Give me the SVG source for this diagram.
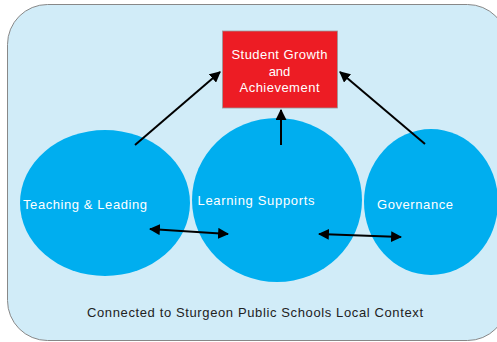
<svg xmlns="http://www.w3.org/2000/svg" width="497" height="342" viewBox="0 0 497 342">
<style>
.bub{fill:#00AEEF}
.lbl{font-family:"Liberation Sans",Arial,sans-serif;font-size:13px;fill:#fff;text-anchor:middle}
.ln{stroke:#000;stroke-width:2;fill:none}
</style>
<defs>
<marker id="ah" viewBox="0 0 10 10" refX="9" refY="5" markerWidth="5.5" markerHeight="5.5" orient="auto-start-reverse">
<path d="M0,0 L10,5 L0,10 z" fill="#000"/>
</marker>
</defs>
<rect x="7.5" y="4.5" width="500" height="336" rx="40" fill="#D1ECF8" stroke="#888" stroke-width="1"/>
<g id="teaching">
<ellipse class="bub" cx="105" cy="203" rx="85" ry="73"/>
<text class="lbl" x="85" y="208.5" textLength="124">Teaching &amp; Leading</text>
</g>
<g id="learning">
<ellipse class="bub" cx="277" cy="200" rx="85" ry="82"/>
<text class="lbl" x="256" y="204.5" textLength="117">Learning Supports</text>
</g>
<g id="governance">
<ellipse class="bub" cx="431" cy="202" rx="67" ry="73"/>
<text class="lbl" x="415" y="208.5" textLength="76">Governance</text>
</g>
<g id="student">
<rect x="222.5" y="31" width="115" height="77" fill="#ED1C24" stroke="#999" stroke-width="0.8"/>
<text class="lbl" x="279.5" y="58.5" textLength="96">Student Growth</text>
<text class="lbl" x="279.5" y="76">and</text>
<text class="lbl" x="279.5" y="92" textLength="80">Achievement</text>
</g>
<g id="context">
<text x="255" y="316.5" font-family="'Liberation Sans',Arial,sans-serif" font-size="13" fill="#222" text-anchor="middle" textLength="336">Connected to Sturgeon Public Schools Local Context</text>
</g>
<g id="connectors">
<line class="ln" x1="135" y1="145" x2="220" y2="72" marker-end="url(#ah)"/>
<line class="ln" x1="281" y1="145" x2="281" y2="110" marker-end="url(#ah)"/>
<line class="ln" x1="425" y1="144" x2="340" y2="72" marker-end="url(#ah)"/>
<line class="ln" x1="150" y1="229" x2="228" y2="234" marker-start="url(#ah)" marker-end="url(#ah)"/>
<line class="ln" x1="319" y1="234" x2="401" y2="237" marker-start="url(#ah)" marker-end="url(#ah)"/>
</g>
</svg>
